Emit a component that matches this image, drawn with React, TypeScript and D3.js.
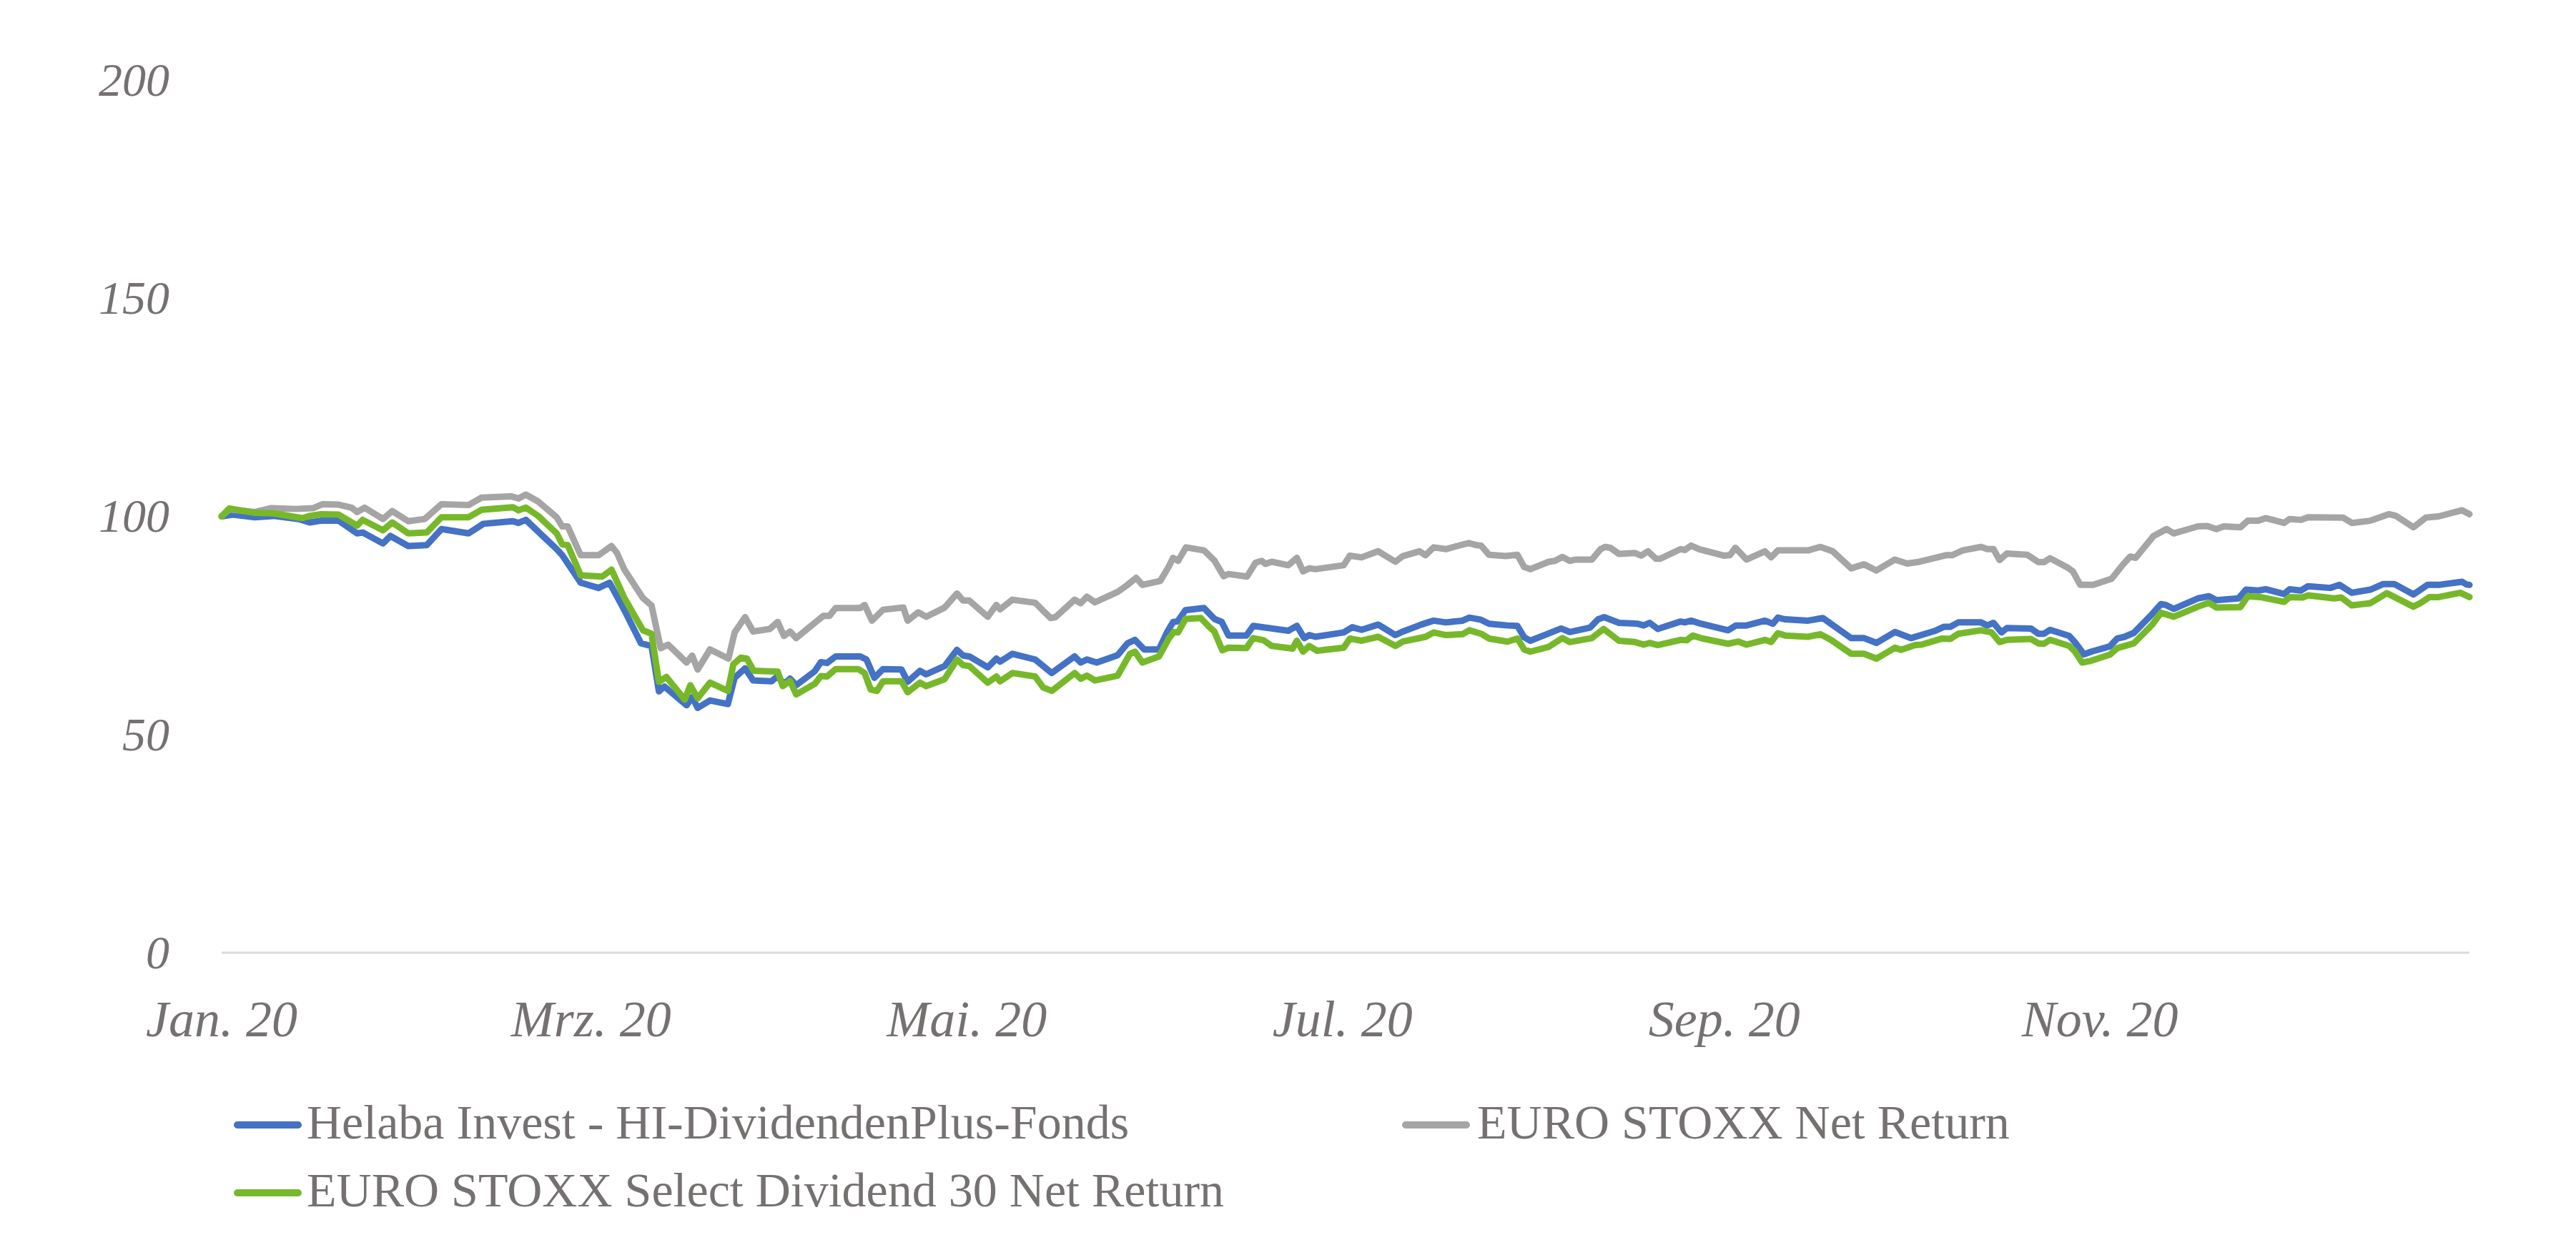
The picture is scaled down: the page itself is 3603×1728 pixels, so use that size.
import React, { useEffect } from 'react';
import * as d3 from 'd3';

// ---- data (days since 1 Jan 2020, index value) ----
const helabaDays = [0, 1.8, 5.4, 8.4, 12.5, 14.3, 16.1, 19, 22, 22.9, 26.2, 27.4, 30.3, 33.3, 35.7, 40.1, 42.5, 47.3, 48.2, 49.4, 54.4, 55.3, 58.3, 61.2, 63, 65.4, 68.1, 69.8, 71, 71.9, 75.5, 76.4, 77.3, 79.3, 82.2, 83.3, 85, 86.3, 89.3, 90.3, 91.3, 92.3, 93.3, 96.3, 97.3, 98.3, 99.7, 103.7, 104.7, 106, 107.4, 110.4, 111.4, 113.4, 114.4, 117.4, 119.4, 120.4, 121.4, 124.4, 125.8, 126.4, 128.4, 132.1, 134.8, 138.5, 139.5, 140.5, 142.1, 145.5, 147.1, 148.3, 149.8, 152.2, 153.5, 154.5, 155.2, 156.5, 159.5, 161.2, 162.4, 163.5, 166.4, 167.5, 173.2, 174.6, 175.8, 176.6, 177.6, 182.2, 183.6, 185.1, 187.8, 190.6, 191.8, 194.8, 196.8, 198.8, 201.5, 202.6, 204.5, 205.8, 208.8, 210.4, 211.5, 212.5, 215.9, 217.5, 218.9, 222.2, 223.5, 224.5, 226.9, 229.9, 230.9, 231.9, 233.2, 236.9, 237.6, 238.6, 240.2, 244.6, 245.9, 247.6, 250.6, 251.9, 252.7, 253.9, 257.6, 260, 264.6, 266.7, 268.7, 271.7, 274.3, 278.3, 279.7, 280.7, 282, 285.7, 286.7, 287.7, 289, 289.9, 293.8, 295, 295.9, 296.9, 300, 300.9, 302.4, 303.6, 306.6, 307.8, 309, 310.5, 313.2, 314.9, 315.7, 317, 320.9, 322.7, 323.9, 327.5, 328.7, 330.7, 331.9, 334.9, 335.8, 337.6, 338.8, 342.4, 343.9, 345.9, 348.9, 351, 352.8, 355.9, 358.2, 360, 363.8, 364.5, 365];
const helabaValues = [100, 100.4, 99.8, 100.1, 99.4, 98.6, 99.0, 99.0, 96.1, 96.3, 93.8, 95.5, 93.2, 93.4, 97.1, 96.1, 98.3, 98.9, 98.5, 99.2, 92.5, 91.1, 84.8, 83.6, 84.8, 78.5, 70.9, 70.3, 59.9, 61.0, 56.7, 58.6, 56.1, 57.8, 57.0, 63.0, 65.2, 62.4, 62.2, 63.4, 61.6, 62.8, 61.3, 64.5, 66.6, 66.4, 67.9, 67.9, 67.2, 63.0, 65.0, 64.9, 62.1, 64.6, 63.8, 65.7, 69.4, 68.1, 67.9, 65.4, 67.4, 66.7, 68.5, 67.2, 64.1, 67.9, 66.5, 67.2, 66.5, 68.2, 70.9, 71.7, 69.5, 69.5, 73.4, 75.8, 75.9, 78.5, 79.0, 76.5, 75.8, 72.7, 72.7, 74.9, 73.8, 74.9, 72.1, 72.8, 72.4, 73.4, 74.6, 74.0, 75.2, 72.8, 73.6, 75.2, 76.1, 75.7, 76.1, 76.8, 76.3, 75.4, 75.0, 74.9, 72.3, 71.5, 73.4, 74.3, 73.5, 74.5, 76.4, 76.9, 75.6, 75.4, 75.0, 75.6, 74.2, 75.9, 75.7, 76.1, 75.4, 73.9, 75.0, 75.0, 76.1, 75.4, 76.8, 76.4, 76.1, 76.7, 72.1, 72.1, 71.0, 73.5, 72.1, 73.8, 74.7, 74.7, 75.7, 75.7, 75.0, 75.6, 73.4, 74.4, 74.3, 73.1, 73.1, 74.0, 72.6, 71.2, 68.4, 69.0, 70.2, 72.0, 72.4, 73.3, 77.2, 79.9, 79.7, 78.8, 81.2, 81.7, 80.8, 81.2, 83.2, 83.0, 83.3, 82.2, 83.3, 83.0, 84.0, 83.6, 84.3, 82.5, 83.2, 84.5, 84.5, 82.1, 84.3, 84.3, 85.0, 84.4, 84.3];

const stoxxDays = [0, 1.25, 5.4, 8.1, 12, 14.9, 16.4, 19, 21.1, 22, 23.2, 26.2, 27.7, 30.3, 33, 35.7, 40.1, 42.2, 47, 48.2, 49.4, 51.4, 54.4, 55.3, 56.2, 58.3, 61.2, 63.3, 64.2, 65.4, 68.4, 69.8, 71.3, 72.5, 75.5, 76.4, 77.3, 79.3, 82.3, 83.3, 85, 86.3, 89, 90.3, 91.3, 92.3, 93.3, 96.3, 97.7, 98.7, 99.7, 103.7, 104.4, 105.6, 107.4, 110.7, 111.4, 113.1, 114.4, 117.4, 119.4, 120.4, 121.4, 124.4, 125.8, 126.4, 128.4, 132.1, 134.6, 135.4, 138.5, 139.5, 140.5, 141.8, 145.5, 147.1, 148.5, 149.5, 152.4, 153.8, 154.5, 155.3, 156.6, 159.5, 161.2, 162.7, 163.5, 166.5, 167.9, 168.9, 169.5, 170.5, 173.2, 174.6, 175.6, 176.6, 177.6, 182.2, 183.2, 185.1, 187.8, 190.6, 191.8, 194.5, 195.5, 196.8, 198.8, 202.5, 203.8, 204.5, 205.8, 208.5, 210.4, 211.5, 212.5, 215.5, 216.5, 217.7, 218.9, 219.9, 222.5, 223.9, 224.7, 225.5, 226.9, 229.5, 230.5, 231.6, 232.9, 233.6, 236.9, 237.6, 238.6, 239.9, 243.9, 244.9, 245.8, 247.6, 250.6, 251.6, 252.7, 257.6, 259.6, 261.6, 264.6, 266.7, 268.7, 271.7, 273.7, 275.7, 280, 281, 282.7, 285.7, 286.7, 287.7, 288.7, 289.9, 293.2, 295, 295.9, 296.9, 299.7, 300.6, 301.8, 303.9, 306.9, 308.7, 309.9, 310.8, 313.7, 315.8, 317, 320.9, 322.4, 323.9, 325.1, 327.8, 329, 330.7, 331.9, 334.9, 335.8, 337.6, 338.8, 344.5, 345.9, 348.9, 351.9, 353.1, 355.9, 357.9, 360, 363.8, 365];
const stoxxValues = [100, 101.6, 101.0, 101.9, 101.7, 101.9, 102.8, 102.7, 102.0, 101.0, 102.0, 99.4, 101.2, 98.9, 99.4, 102.8, 102.6, 104.3, 104.6, 104.1, 105.0, 103.4, 99.8, 97.7, 97.7, 91.1, 91.1, 93.2, 91.6, 87.8, 81.3, 79.6, 69.8, 70.6, 66.5, 68.1, 64.9, 69.5, 67.4, 73.4, 76.9, 73.6, 74.2, 75.8, 72.6, 73.6, 72.1, 75.6, 77.2, 77.2, 79.0, 79.0, 79.7, 76.1, 78.6, 79.1, 76.1, 78.0, 77.0, 79.1, 82.3, 80.7, 80.7, 77.0, 79.7, 78.7, 80.9, 80.2, 76.7, 76.9, 80.9, 80.1, 81.6, 80.3, 82.7, 84.3, 85.9, 84.3, 85.2, 88.5, 90.5, 89.8, 92.9, 92.2, 89.9, 86.3, 86.8, 86.2, 89.4, 89.8, 89.1, 89.6, 88.8, 90.5, 87.4, 88.1, 87.9, 88.8, 91.0, 90.6, 92.0, 89.6, 90.9, 92.0, 91.1, 92.9, 92.5, 93.9, 93.4, 93.3, 91.2, 90.9, 91.2, 88.4, 87.9, 89.6, 89.8, 90.7, 89.8, 90.1, 90.1, 92.5, 93.0, 92.8, 91.4, 91.6, 91.0, 92.0, 90.3, 90.3, 92.5, 92.3, 93.3, 92.5, 91.0, 91.1, 92.8, 90.1, 92.0, 90.6, 92.2, 92.2, 93.0, 92.0, 88.1, 89.0, 87.6, 90.1, 89.2, 89.6, 91.1, 91.1, 92.2, 93.0, 92.5, 92.5, 90.0, 91.5, 91.2, 89.5, 89.5, 90.4, 88.3, 87.4, 84.3, 84.3, 85.7, 88.9, 90.8, 90.5, 95.5, 97.1, 96.1, 97.7, 97.8, 97.1, 97.7, 97.5, 99.0, 99.0, 99.6, 98.5, 99.4, 99.2, 99.8, 99.7, 98.5, 99.0, 100.5, 100.1, 97.5, 99.7, 100.0, 101.4, 100.5];

const selectDays = [0, 1.25, 5.4, 8.4, 13.1, 14.3, 16.1, 19, 22, 22.9, 26.2, 27.7, 30.3, 33.3, 35.7, 40.1, 42.2, 47.3, 48.2, 49.4, 51.4, 54.4, 55.3, 56.2, 58.3, 61.8, 63.3, 65.4, 68.4, 69.8, 71, 72.2, 75.2, 76.1, 77.3, 79.3, 82.2, 83.1, 84.3, 85.3, 86.4, 90.3, 91.1, 92.3, 93.3, 96.3, 97.3, 98.3, 99.7, 103.4, 104.4, 105.4, 106.4, 107.4, 110.4, 111.4, 113.4, 114.4, 117.4, 119.4, 120.4, 121.4, 124.4, 125.8, 126.4, 128.4, 132.1, 133.4, 134.8, 138.5, 139.5, 140.5, 141.8, 145.5, 147.5, 148.3, 149.5, 152.2, 153.8, 154.6, 155.3, 156.5, 159, 160.2, 161.2, 162.5, 163.5, 166.4, 167.5, 169.2, 170.5, 173.9, 174.6, 175.6, 176.6, 177.9, 182.2, 183.2, 185.1, 187.8, 190.6, 191.8, 195.5, 196.8, 198.8, 201.5, 202.6, 204.5, 205.8, 208.8, 210.4, 211.5, 212.5, 215.5, 217.7, 218.9, 222.5, 224.4, 226.9, 229.5, 230.9, 231.9, 233.2, 236.9, 237.9, 238.9, 240.2, 244.6, 246.3, 247.6, 250.6, 251.6, 252.7, 253.9, 257.6, 259.6, 261.3, 264.6, 266.7, 268.7, 271.7, 272.7, 275, 276, 279.4, 280.7, 282, 285.7, 287.4, 288.7, 289.9, 293.8, 295, 295.9, 296.9, 300, 300.9, 302.1, 303.3, 306.6, 307.8, 309, 310.5, 313.5, 314.9, 317, 320.9, 322.7, 323.9, 327.8, 329, 331, 334.9, 335.8, 337.9, 338.8, 343, 344.2, 345.9, 348.9, 351.6, 355.9, 357, 358.5, 360, 363.5, 365];
const selectValues = [100, 101.8, 100.8, 100.7, 99.6, 100.1, 100.5, 100.4, 97.9, 99.2, 96.8, 98.6, 96.1, 96.3, 99.8, 99.8, 101.5, 102.1, 101.4, 102.0, 100.1, 96.1, 93.6, 93.4, 86.5, 86.2, 87.8, 81.3, 73.9, 73.1, 62.1, 63.2, 58.0, 61.3, 58.3, 61.9, 60.0, 66.1, 67.6, 67.4, 64.6, 64.4, 61.1, 62.3, 59.2, 61.6, 63.4, 63.3, 65.0, 65.0, 64.1, 60.3, 60.0, 62.2, 62.2, 59.7, 61.9, 61.1, 62.7, 67.2, 65.9, 65.7, 61.9, 63.3, 62.2, 64.1, 63.3, 60.8, 60.0, 64.1, 62.8, 63.5, 62.4, 63.5, 68.5, 69.0, 66.5, 67.9, 72.0, 73.5, 73.4, 76.5, 76.7, 74.9, 73.6, 69.3, 69.9, 69.8, 72.1, 71.6, 70.3, 69.7, 71.5, 69.0, 70.3, 69.2, 69.9, 72.0, 71.5, 72.4, 70.3, 71.3, 72.4, 73.4, 72.8, 73.0, 73.9, 73.1, 72.0, 71.3, 72.0, 69.5, 69.0, 70.1, 72.1, 71.2, 72.1, 74.2, 71.5, 71.2, 70.6, 71.0, 70.5, 71.7, 71.6, 72.7, 72.1, 70.8, 71.3, 70.6, 71.7, 71.2, 73.2, 72.7, 72.4, 73.0, 71.7, 68.5, 68.5, 67.4, 69.9, 69.4, 70.5, 70.6, 72.0, 71.9, 73.1, 73.9, 73.4, 71.2, 71.7, 71.9, 70.9, 70.8, 71.7, 70.3, 69.1, 66.5, 66.8, 68.3, 69.8, 70.3, 70.9, 75.2, 77.9, 77.0, 79.3, 80.2, 79.1, 79.2, 81.7, 81.5, 80.4, 81.5, 81.4, 81.9, 81.2, 81.4, 79.6, 80.1, 82.4, 79.3, 80.1, 81.5, 81.5, 82.5, 81.5];

const seriesNames = [
  'Helaba Invest - HI-DividendenPlus-Fonds',
  'EURO STOXX Net Return',
  'EURO STOXX Select Dividend 30 Net Return',
];
const seriesColors = ['#4472C4', '#A5A5A5', '#77B82A'];

const yTicks = [0, 50, 100, 150, 200];
const xTickDates = ['2020-01-01', '2020-03-01', '2020-05-01', '2020-07-01', '2020-09-01', '2020-11-01'];
const xTickLabels = ['Jan. 20', 'Mrz. 20', 'Mai. 20', 'Jul. 20', 'Sep. 20', 'Nov. 20'];

// ---- layout ----
const W = 3603;
const H = 1728;
const PLOT_L = 310;
const PLOT_R = 3454;
const PLOT_T = 112;
const PLOT_B = 1333;
const TEXT = '#767171';
const FONT = '"Liberation Serif", "Times New Roman", serif';

const start = new Date(Date.UTC(2020, 0, 1));
const end = new Date(Date.UTC(2020, 11, 31));
const dayToDate = (d: number) => new Date(start.getTime() + d * 86400000);
const parseDay = (s: string) => new Date(s + 'T00:00:00Z');

export default function App() {
  useEffect(() => {
    document.body.style.margin = '0';
  }, []);

  const x = d3.scaleUtc().domain([start, end]).range([PLOT_L, PLOT_R]);
  const y = d3.scaleLinear().domain([0, 200]).range([PLOT_B, PLOT_T]);

  const line = d3
    .line<[number, number]>()
    .x((d) => x(dayToDate(d[0])))
    .y((d) => y(d[1]))
    .curve(d3.curveLinear);

  const series = [
    { days: helabaDays, values: helabaValues },
    { days: stoxxDays, values: stoxxValues },
    { days: selectDays, values: selectValues },
  ];

  const legend = [
    { i: 0, sx: 332, ex: 417, tx: 429, cy: 1574, by: 1593 },
    { i: 1, sx: 1966, ex: 2051, tx: 2066, cy: 1574, by: 1593 },
    { i: 2, sx: 332, ex: 417, tx: 429, cy: 1669, by: 1688 },
  ];

  const yFont = 66;
  const xFont = 72;

  return (
    <svg width={W} height={H} style={{ display: 'block', background: '#fff' }} xmlns="http://www.w3.org/2000/svg">
      <rect x={0} y={0} width={W} height={H} fill="#fff" />
      {/* y tick labels */}
      {yTicks.map((t) => (
        <text
          key={'y' + t}
          x={237}
          y={y(t) + yFont * 0.33}
          textAnchor="end"
          fontFamily={FONT}
          fontStyle="italic"
          fontSize={yFont}
          fill={TEXT}
        >
          {t}
        </text>
      ))}
      {/* x axis line */}
      <line x1={PLOT_L} x2={PLOT_R} y1={y(0)} y2={y(0)} stroke="#D9D9D9" strokeWidth={3} />
      {/* x tick labels */}
      {xTickDates.map((d, i) => (
        <text
          key={'x' + d}
          x={x(parseDay(d))}
          y={1450}
          textAnchor="middle"
          fontFamily={FONT}
          fontStyle="italic"
          fontSize={xFont}
          fill={TEXT}
        >
          {xTickLabels[i]}
        </text>
      ))}
      {/* series lines */}
      {series.map((s, i) => {
        const pts: [number, number][] = s.days.map((d, k) => [d, s.values[k]]);
        return (
          <path
            key={'s' + i}
            d={line(pts) || ''}
            fill="none"
            stroke={seriesColors[i]}
            strokeWidth={9}
            strokeLinejoin="round"
            strokeLinecap="round"
          />
        );
      })}
      {/* legend */}
      {legend.map((l) => (
        <g key={'l' + l.i}>
          <line
            x1={l.sx}
            x2={l.ex}
            y1={l.cy}
            y2={l.cy}
            stroke={seriesColors[l.i]}
            strokeWidth={10}
            strokeLinecap="round"
          />
          <text x={l.tx} y={l.by} fontFamily={FONT} fontSize={68} fill={TEXT}>
            {seriesNames[l.i]}
          </text>
        </g>
      ))}
    </svg>
  );
}
